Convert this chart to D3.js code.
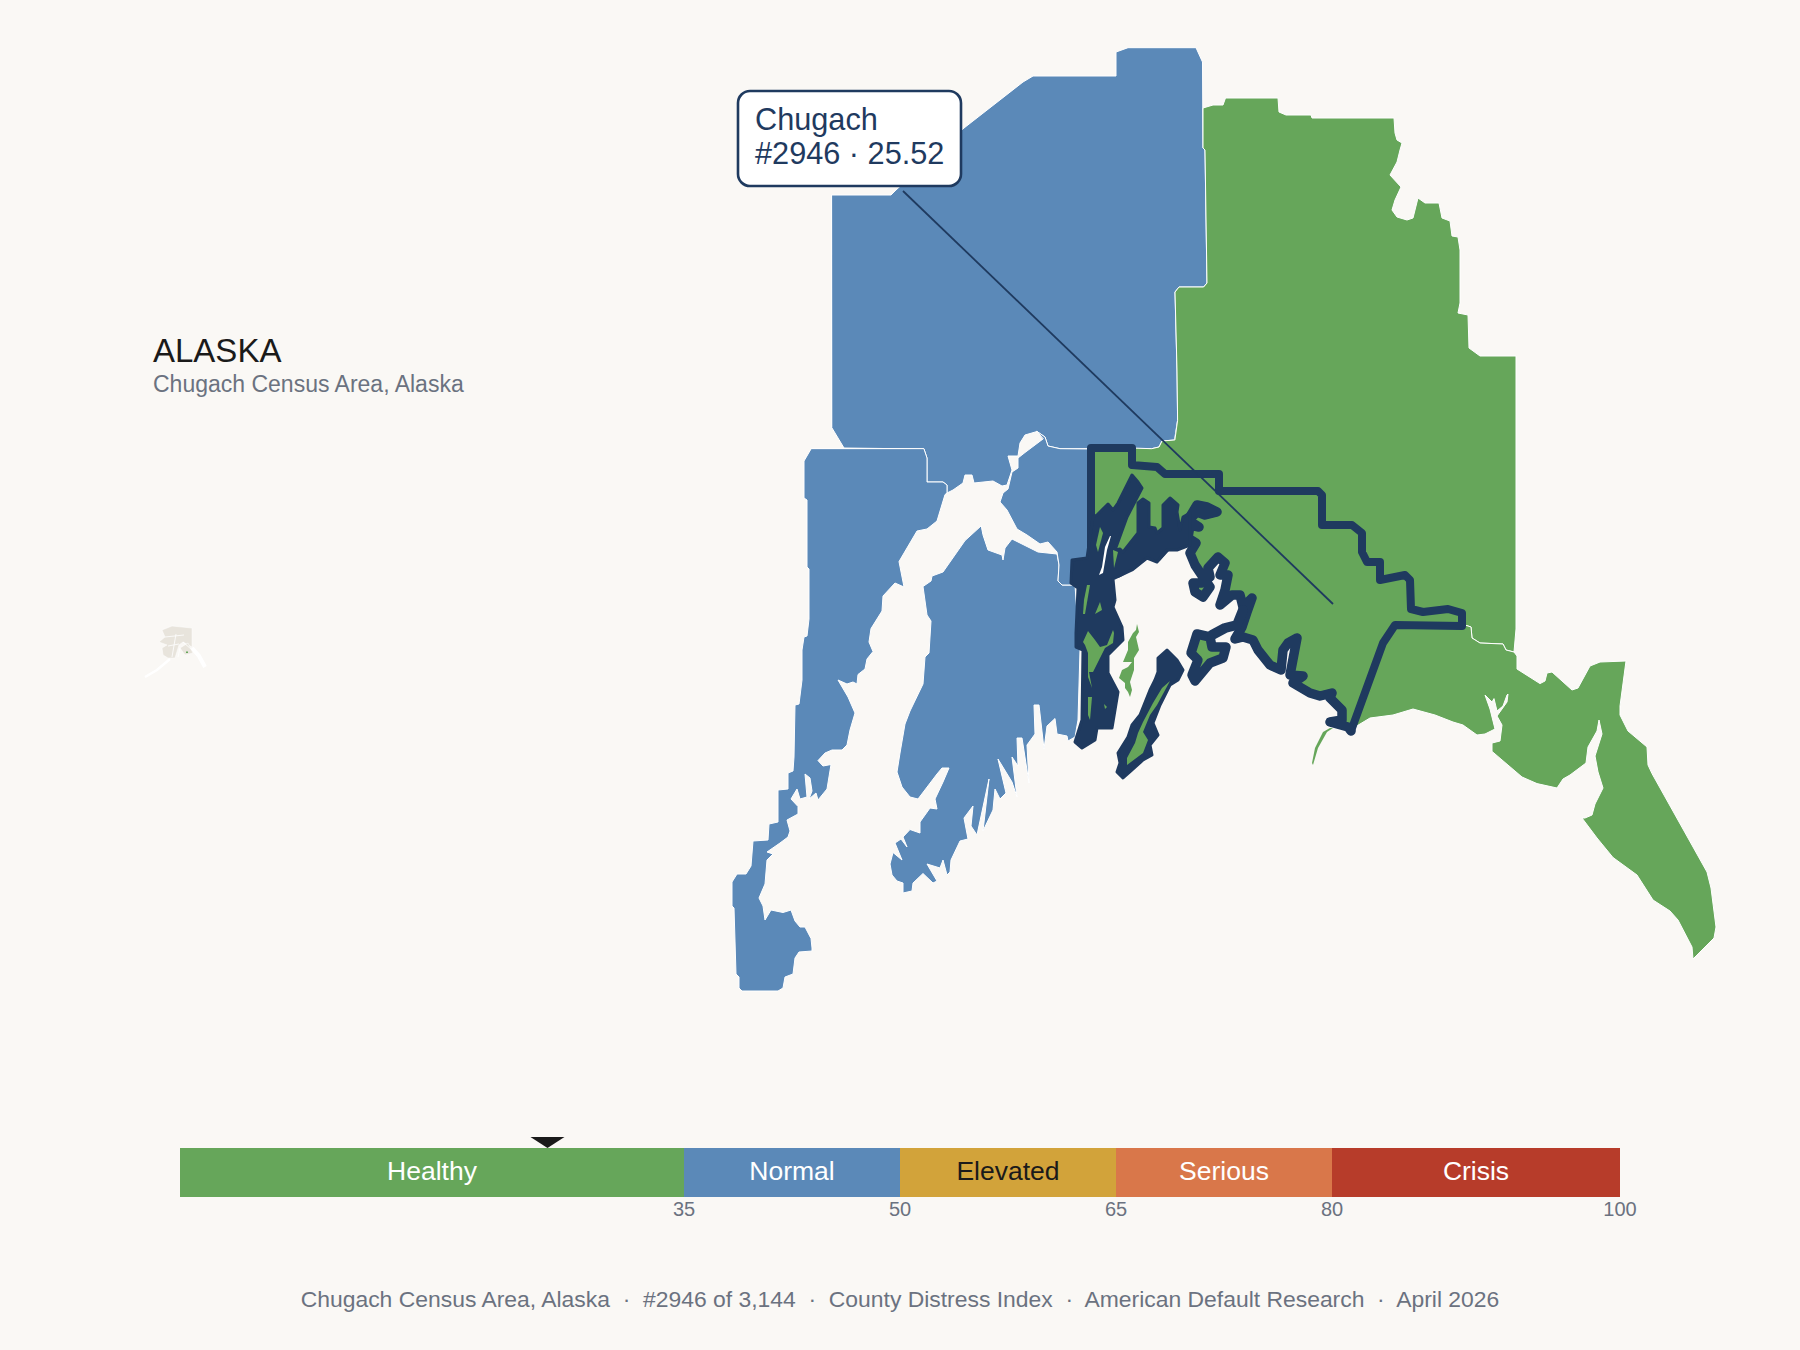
<!DOCTYPE html>
<html><head><meta charset="utf-8">
<script src="https://cdn.jsdelivr.net/npm/d3@7/dist/d3.min.js"></script>
<style>html,body{margin:0;padding:0;background:#faf8f5}svg{display:block}text{font-family:"Liberation Sans",Arial,sans-serif}</style>
</head><body><svg id="c" width="1800" height="1350"></svg>
<script>
// ---------- data ----------
const stateName = "ALASKA";
const countyName = "Chugach Census Area, Alaska";
const calloutLines = ["Chugach", "#2946 · 25.52"];
const footerText = "Chugach Census Area, Alaska  ·  #2946 of 3,144  ·  County Distress Index  ·  American Default Research  ·  April 2026";
const bandNames = ["Healthy","Normal","Elevated","Serious","Crisis"];
const bandEdges = [0,35,50,65,80,100];
const tickLabels = [35,50,65,80,100];
const countyScore = 25.52;

// map outlines, in map units
const matSu = [[832,195],[891,195],[896,190],[964,128],[1023,82],[1033,76],[1116,76],[1116,52],[1128,47.7],[1196,47.7],[1202.5,62],[1203,148],[1205,150],[1207,283],[1203.6,287],[1179,287],[1175,292],[1177,370],[1177.6,420],[1174.5,440],[1162,441],[1159,447],[1151.6,448.7],[1060,448.7],[1048,446],[1045,437],[1037,431.5],[1025,435],[1020,443],[1018,456],[1008,456],[1012,470],[1007,485],[1002,486],[993,481],[974,483],[972,475],[965,475],[963,483],[953,490],[947,493],[947,485],[943,482],[927,482],[927,458],[924,449],[844,448],[832,428]];
const lakePen = [[811,449],[804,461],[804,498],[807,500],[807,567],[809,569],[809,619],[807,636],[804,637],[802,650],[802,680],[799,704],[795,705],[794,757],[793,771],[788,773],[788,789],[778,790],[778,822],[769,824],[768,840],[753,841],[751,866],[746,874],[737,874],[732,882],[732,906],[734,908],[736,974],[739,977],[739,988],[742,991],[778,991],[783,988],[785,977],[793,974],[795,958],[799,952],[812,951],[812,948],[811,938.5],[805,927],[800,927],[795,921],[791,910],[783,912.5],[771,910],[765,920],[763,906],[759,898],[765,884],[767,860],[773,854],[767,852],[780,843],[788,837],[790,831],[787,820],[798,814],[798,806.5],[791,799],[797,789],[800,799],[807,797],[805,774],[810,778],[812,791],[809,799],[816,793],[818,800],[827,789],[831,764.5],[823,766],[818,760.6],[825,753],[832,750],[842,750],[847,745],[850,730],[855,713],[848,697],[838,680],[847,684],[853,682],[857,684],[858,674.5],[865,669],[867,659],[873,651.5],[869,642],[871,628.6],[882,611],[883,596],[895,583],[904,587],[899,561.6],[917,531],[927,529],[937,521],[945,494.6],[947,493],[947,485],[943,482],[927,482],[927,458],[924,449]];
const kenai = [[981,526],[965,540.6],[943,572],[932,576],[931,581],[923,586.5],[927,615],[931,621],[929,653],[925,657],[923,684],[910,711],[905,724],[900,753],[897,772],[902,787],[910,797],[918,799],[937,774],[942,768],[949,768],[943,782],[935,799],[937,809],[930,808],[920,822],[920,833],[910,829.5],[903,837],[907,847],[901,839],[895,843],[902,860],[893,852.5],[890,864],[892,875],[897,881],[903,883],[903,893],[912,891],[913,883],[923,873.5],[933,883],[937,881],[927,864],[940,868],[943,860],[947,875],[950,872],[951,860],[960,841],[968,839],[964,818],[973,806],[971,826],[977,835],[989,779],[983,831],[993,810],[995,789],[1000,799],[1006,793],[998,759],[1012,782],[1017,797],[1012,757],[1018,766],[1017,738],[1022,738],[1029,783],[1027,745],[1035,734],[1034,705],[1039,705],[1044,749],[1047,726],[1055,718.5],[1057,734],[1067,736],[1068,741],[1075,737],[1078,720],[1080,650],[1076,600],[1075,585],[1062,585],[1058,581],[1059,565],[1057,554],[1038,552],[1022,544],[1012,539],[1005,548],[1003,560],[1002,555],[988,550],[983,535]];
const anchorage = [[1037,431.5],[1045,437],[1048,446],[1060,448.7],[1092,449],[1092,570],[1080,585],[1062,585],[1058,581],[1059,565],[1057,552],[1048,542],[1040,544],[1027,535],[1017,529],[1007,510],[1000,502],[1003,493],[1008,489],[1012,472],[1018,468],[1018,458],[1025,452.5],[1043,439]];
const copperRiver = [[1174.5,440],[1162,441],[1159,447],[1151.6,448.7],[1132,448],[1132,465],[1157,467],[1165,474],[1219,474],[1219,491],[1318,491],[1322,495],[1322,525],[1352,525],[1362,533],[1362,552],[1367,562],[1380,562],[1380,580],[1405,575],[1410,580],[1411,609],[1423,612],[1448,609],[1462,613],[1462,626],[1465,625],[1471,627],[1472,638],[1480,643],[1503,644],[1506,650],[1514,652],[1516,629],[1516,356],[1480,356],[1469,348],[1468,315],[1458,313],[1460,303],[1460,250],[1458,237],[1452,236],[1450,221],[1442,218],[1439,203],[1425,203],[1418,198],[1413,218],[1407,220],[1397,217],[1392,210],[1395,200],[1401,187],[1390,175],[1397,162],[1400,150],[1402,143],[1397,140],[1395,133],[1394,118],[1312,118],[1311,115],[1286,115],[1279,112],[1278,98],[1225.5,98],[1223,105],[1213,105],[1203,108],[1203,148],[1205,150],[1207,283],[1203.6,287],[1179,287],[1175,292],[1177,370],[1177.6,420]];
const yakutat = [[1465,625],[1471,627],[1472,638],[1480,643],[1503,644],[1506,650],[1514,652],[1517,656],[1517,669],[1540,683.6],[1545,681],[1547,673],[1552,672],[1572,690],[1578,688],[1590,666],[1600,662],[1626,661],[1620,706],[1620,715],[1628,731],[1647,747],[1648,765],[1652,773.6],[1707,872],[1711,888],[1716,927],[1714,938],[1693,959],[1692,947],[1678,920],[1670,911],[1653,900],[1637,875],[1613,857.5],[1597,838],[1582,818],[1585,818],[1592,815],[1595,804],[1603,788],[1598,772],[1595,756],[1602,734],[1599,720],[1597,731],[1588,747],[1586,763],[1570,775],[1563,779],[1557,788],[1537,783.6],[1522,777],[1492,751.4],[1492,743],[1500,741],[1502,725],[1497,716],[1507,702],[1508,694],[1507,695],[1503,706],[1497,711],[1494,698.6],[1492,702],[1485,695],[1490,709],[1495,729],[1485,734],[1477,735],[1463,725],[1453,722],[1435,715],[1413,709],[1393,715],[1370,718],[1355,727],[1351,731],[1383,643],[1395,625]];
const chugachInland = [[1091,448],[1132,448],[1132,465],[1157,467],[1165,474],[1219,474],[1219,491],[1318,491],[1322,495],[1322,525],[1352,525],[1362,533],[1362,552],[1367,562],[1380,562],[1380,580],[1405,575],[1410,580],[1411,609],[1423,612],[1448,609],[1462,613],[1462,626],[1395,625],[1383,643],[1351,731]];
const chugachCoast = [[1351,731],[1348,727],[1330,722],[1342,720],[1342,710],[1330,698],[1332,693],[1320,696],[1310,693],[1293,683],[1303,676],[1290,675],[1297,638],[1288,643],[1283,650],[1281,670],[1270,665],[1258,650],[1253,640],[1243,637],[1235,639],[1242,627],[1247,612],[1252,598],[1243,607],[1240,595],[1232,595],[1220,605],[1225,590],[1228,575],[1220,575],[1225,563],[1218,557],[1208,568],[1210,577],[1202,583],[1193,583],[1195,592],[1203,597],[1210,587],[1203,577],[1195,565],[1190,553],[1196,543],[1188,538],[1190,525],[1199,527],[1188,520],[1197,505],[1207,507],[1217,512],[1205,515],[1197,512],[1187,522],[1183,537],[1177,545],[1168,545],[1157,557],[1147,553],[1132,565],[1118,573],[1091,570]];
const hinchinbrook = [[1197,634],[1191,653],[1198,660],[1192,675],[1195,681],[1210,663],[1223,658],[1226,647],[1212,647],[1210,637]];
const knightLink = [[1212,635],[1225,628],[1237,625],[1243,610],[1237,625],[1225,628]];
const westMass = [[1093,517],[1097,515],[1108,504],[1113,510],[1118,503],[1132,475],[1138,482],[1142,488],[1127,517],[1115,550],[1120,549],[1123,552],[1138,533],[1138,503],[1143,499],[1149,503],[1149,527],[1155,528],[1157,533],[1163,528],[1163,505],[1170,498],[1178,505],[1177,512],[1180,530],[1183,517],[1190,513],[1190,545],[1177,550],[1167,550],[1157,562],[1147,558],[1132,570],[1115,578],[1113,579],[1115,600],[1113,607],[1122,627],[1123,640],[1108,655],[1108,673],[1118,692],[1112,728],[1097,728],[1095,740],[1082,748],[1075,742],[1082,720],[1083,650],[1076,647],[1076,633],[1078,588],[1071,583],[1072,560],[1087,558]];
const montagueMass = [[1167,650],[1172,655],[1177,660],[1183,670],[1178,680],[1170,685],[1160,705],[1153,723],[1158,735],[1150,745],[1152,755],[1143,760],[1132,770],[1123,778],[1117,772],[1120,763],[1118,753],[1128,737],[1132,725],[1140,715],[1150,690],[1155,680],[1158,672],[1158,658]];
const montagueGreen = [[1170,681],[1157,705],[1150,715],[1143,732],[1148,740],[1143,753],[1127,765],[1127,758],[1135,743],[1138,733],[1143,722],[1153,703],[1162,688]];
const westPatches = [
  [[1087,585],[1090,585],[1085,614],[1083,614],[1084,600]],
  [[1100,602],[1102,610],[1095,614]],
  [[1083,642],[1088,631],[1095,640],[1100,647],[1107,645],[1113,630],[1114,633],[1113,643],[1105,648],[1100,658],[1093,672],[1089,672],[1092,688],[1088,677],[1088,653],[1085,645]],
  [[1088,697],[1092,697],[1090,720],[1088,715]],
  [[1104,704],[1107,707],[1105,709]],
  [[1100,527],[1103,533],[1098,552],[1096,545]],
  [[1113,550],[1118,552],[1114,568]]
];
const westSliver = [[1111,536],[1107,550],[1103,573],[1099,575],[1102,567],[1105,547],[1110,536]];
const bareIsland = [[1137,624],[1139,632],[1136,637],[1139,650],[1134,658],[1134,670],[1130,682],[1132,690],[1130,697],[1128,692],[1125,688],[1125,683],[1119,678],[1122,670],[1128,667],[1132,662],[1123,662],[1128,650],[1128,642],[1133,633],[1136,630]];
const kayakIsland = [[1333,728],[1327,732],[1318,748],[1313,765],[1312,763],[1315,748],[1323,732],[1330,728]];
const calloutAnchor = [1333,604];
const calloutStart = [903,191];

// inset locator
const insetBody = [[162,630],[172,626],[192,628],[192,647],[183,642],[179,645],[175,658],[168,658],[163,655],[162,648],[167,645],[159,642],[165,637]];
const insetChunk = [[180,648],[188,643],[193,653],[185,655]];
const insetTail = [[170,659],[157,670],[145,677]];
const insetPanhandle = [[192,648],[199,656],[205,667]];
const insetBorders = [[[165,637],[184,635]],[[176,634],[172,657]],[[183,642],[192,650]],[[168,646],[179,644]],[[180,648],[178,657]]];
const insetPin = [[186,651.5],[188,651.5],[188,653],[186,653]];

// ---------- colours ----------
const BG="#faf8f5", INK="#1a1a1a", MUTED="#6b7280", NAVY="#1f3a5f", GREEN="#66a65a", BLUE="#5b89b8", GOLD="#d2a33a", ORANGE="#d9774a", RED="#b73c2a", INSET="#e8e4dc";
const bandColors=[GREEN,BLUE,GOLD,ORANGE,RED];
const bandText=["#fff","#fff",INK,"#fff","#fff"];

// ---------- drawing ----------
const svg=d3.select("#c");
svg.append("rect").attr("width",1800).attr("height",1350).attr("fill",BG);
const proj=d3.geoIdentity();
const path=d3.geoPath(proj);
const poly=r=>({type:"Feature",geometry:{type:"Polygon",coordinates:[[...r,r[0]]]}});
const line=r=>({type:"Feature",geometry:{type:"LineString",coordinates:r}});

const map=svg.append("g");
function draw(rings,fill,stroke,w){
  map.append("g").selectAll("path").data(rings.map(poly)).join("path")
    .attr("d",path).attr("fill",fill).attr("stroke",stroke||"none").attr("stroke-width",w||0).attr("stroke-linejoin","round").attr("stroke-linecap","round");
}
draw([matSu,lakePen,kenai,anchorage],BLUE,"#fff",1);
draw([copperRiver,yakutat],GREEN,"#fff",1);
draw([bareIsland,kayakIsland],GREEN);
draw([[...chugachInland,...chugachCoast]],GREEN,NAVY,8);
map.append("path").datum(line(chugachCoast)).attr("d",path).attr("fill","none").attr("stroke",NAVY).attr("stroke-width",9.5).attr("stroke-linejoin","round").attr("stroke-linecap","round");
draw([hinchinbrook],GREEN,NAVY,9.5);
draw([knightLink],NAVY,NAVY,10);
draw([westMass,montagueMass],NAVY,NAVY,3);
draw([montagueGreen],GREEN);
draw(westPatches,GREEN);
draw([westSliver],"#fff");

// inset
const inset=svg.append("g");
inset.append("path").datum(line(insetTail)).attr("d",path).attr("fill","none").attr("stroke","#fff").attr("stroke-width",2.5);
inset.append("path").datum(line(insetPanhandle)).attr("d",path).attr("fill","none").attr("stroke","#fff").attr("stroke-width",4);
inset.selectAll(".b").data([insetBody,insetChunk].map(poly)).join("path").attr("class","b").attr("d",path).attr("fill",INSET).attr("stroke","#fff").attr("stroke-width",.5);
inset.selectAll(".l").data(insetBorders.map(line)).join("path").attr("class","l").attr("d",path).attr("fill","none").attr("stroke","#fff").attr("stroke-width",.8);
inset.append("path").datum(poly(insetPin)).attr("d",path).attr("fill",GREEN);

// leader + callout
svg.append("path").datum(line([calloutStart,calloutAnchor])).attr("d",path).attr("fill","none").attr("stroke",NAVY).attr("stroke-width",1.8);
const callout=svg.append("g").attr("transform","translate(738,91)");
callout.append("rect").attr("width",223).attr("height",95).attr("rx",12).attr("fill","#fff").attr("stroke",NAVY).attr("stroke-width",2.6);
callout.selectAll("text").data(calloutLines).join("text").attr("x",17).attr("y",(d,i)=>39+i*34).attr("fill",NAVY).attr("font-size",30.7).text(d=>d);

// titles
svg.append("text").attr("x",153).attr("y",362).attr("font-size",33).attr("fill",INK).text(stateName);
svg.append("text").attr("x",153).attr("y",392).attr("font-size",23).attr("fill",MUTED).text(countyName);

// scale bar
const x=d3.scaleLinear().domain([0,100]).range([180,1620]);
const bands=bandNames.map((n,i)=>({n,a:bandEdges[i],b:bandEdges[i+1],c:bandColors[i],t:bandText[i]}));
const bar=svg.append("g");
bar.selectAll("rect").data(bands).join("rect").attr("x",d=>x(d.a)).attr("y",1148).attr("width",d=>x(d.b)-x(d.a)).attr("height",49).attr("fill",d=>d.c);
bar.selectAll("text").data(bands).join("text").attr("x",d=>x((d.a+d.b)/2)).attr("y",1180).attr("text-anchor","middle").attr("font-size",26.5).attr("fill",d=>d.t).text(d=>d.n);
const ax=svg.append("g").attr("transform","translate(-0.5,1197)").call(d3.axisBottom(x).tickValues(tickLabels).tickSize(0));
ax.select(".domain").remove();
ax.selectAll("text").attr("y",19).attr("dy",0).attr("font-size",20).attr("font-family",'"Liberation Sans",Arial,sans-serif').attr("fill",MUTED);
svg.append("path").attr("d",d3.line()([[x(countyScore)-17,1137],[x(countyScore)+17,1137],[x(countyScore),1148]])+"Z").attr("fill",INK);

// footer
svg.append("text").attr("x",900).attr("y",1307).attr("text-anchor","middle").attr("font-size",22.9).attr("fill",MUTED).style("white-space","pre").text(footerText);
</script></body></html>
